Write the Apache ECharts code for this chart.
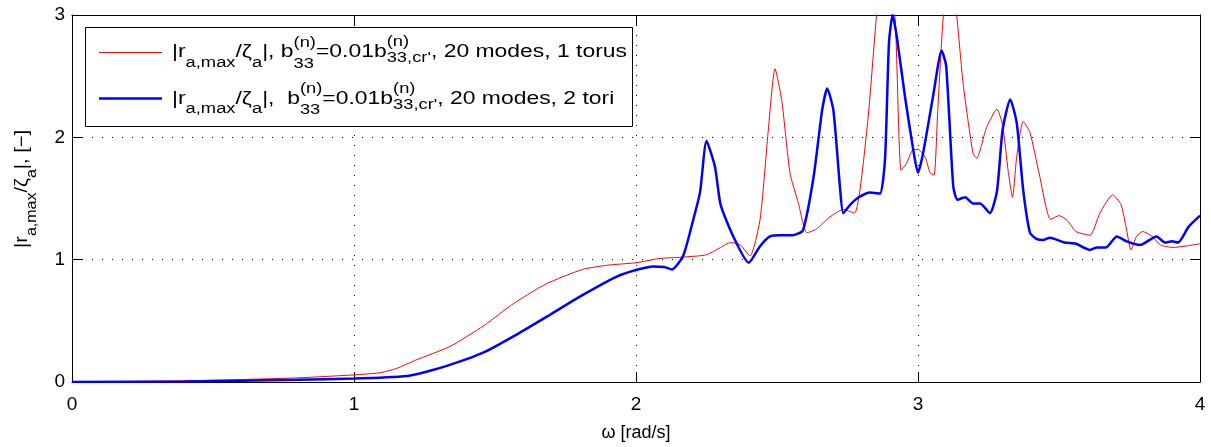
<!DOCTYPE html>
<html>
<head>
<meta charset="utf-8">
<script src="https://cdn.jsdelivr.net/npm/echarts@6/dist/echarts.min.js"></script>
<style>
html,body{margin:0;padding:0;background:#fff;}
#chart{width:1211px;height:447px;}
</style>
</head>
<body>
<div id="chart"></div>
<script>
// ---- data ----
const xTicks = [0, 1, 2, 3, 4];
const yTicks = [0, 1, 2, 3];
const redOmega = [0, 0.2, 0.4, 0.6, 0.8, 1.0, 1.09, 1.15, 1.22, 1.34, 1.46, 1.565, 1.68, 1.81, 1.9, 2.0, 2.085, 2.16, 2.25, 2.30, 2.335, 2.37, 2.404, 2.44, 2.468, 2.493, 2.517, 2.546, 2.576, 2.606, 2.64, 2.688, 2.735, 2.775, 2.82, 2.853, 2.88, 2.918, 2.94, 2.96, 2.983, 3.0, 3.025, 3.043, 3.057, 3.07, 3.09, 3.112, 3.137, 3.16, 3.195, 3.208, 3.243, 3.28, 3.30, 3.32, 3.335, 3.35, 3.373, 3.397, 3.43, 3.47, 3.50, 3.53, 3.56, 3.61, 3.645, 3.69, 3.72, 3.74, 3.755, 3.775, 3.797, 3.83, 3.86, 3.905, 4.0];
const redAmp = [0, 0.004, 0.01, 0.02, 0.034, 0.058, 0.075, 0.11, 0.18, 0.29, 0.46, 0.64, 0.80, 0.92, 0.955, 0.975, 1.01, 1.02, 1.04, 1.10, 1.14, 1.12, 1.03, 1.33, 2.03, 2.56, 2.30, 1.71, 1.46, 1.22, 1.25, 1.35, 1.41, 1.38, 2.09, 3.0, 3.6, 3.0, 1.73, 1.79, 1.90, 1.90, 1.84, 1.71, 1.69, 2.22, 3.0, 3.4, 3.0, 2.44, 1.87, 1.83, 2.08, 2.23, 2.10, 1.72, 1.51, 1.84, 2.13, 2.04, 1.70, 1.33, 1.36, 1.32, 1.23, 1.20, 1.38, 1.53, 1.45, 1.24, 1.08, 1.19, 1.23, 1.19, 1.12, 1.10, 1.13];
const blueOmega = [0, 0.4, 0.8, 1.0, 1.19, 1.25, 1.34, 1.458, 1.578, 1.695, 1.81, 1.93, 2.0, 2.06, 2.10, 2.127, 2.167, 2.20, 2.227, 2.25, 2.28, 2.30, 2.345, 2.40, 2.44, 2.475, 2.51, 2.557, 2.592, 2.63, 2.66, 2.678, 2.70, 2.723, 2.735, 2.76, 2.79, 2.83, 2.865, 2.883, 2.897, 2.91, 2.925, 2.954, 2.983, 3.0, 3.018, 3.053, 3.084, 3.10, 3.125, 3.14, 3.167, 3.195, 3.22, 3.255, 3.28, 3.30, 3.327, 3.35, 3.373, 3.397, 3.42, 3.443, 3.468, 3.52, 3.56, 3.61, 3.635, 3.667, 3.705, 3.74, 3.787, 3.846, 3.876, 3.90, 3.922, 3.96, 4.0];
const blueAmp = [0, 0.005, 0.018, 0.028, 0.05, 0.08, 0.14, 0.24, 0.39, 0.55, 0.71, 0.86, 0.915, 0.945, 0.94, 0.92, 1.03, 1.30, 1.55, 1.97, 1.76, 1.45, 1.19, 0.975, 1.11, 1.19, 1.20, 1.20, 1.24, 1.68, 2.22, 2.40, 2.22, 1.60, 1.38, 1.45, 1.51, 1.55, 1.54, 1.82, 2.77, 3.0, 2.82, 2.33, 1.90, 1.71, 1.87, 2.33, 2.71, 2.58, 1.60, 1.49, 1.51, 1.46, 1.46, 1.38, 1.56, 2.06, 2.31, 2.12, 1.57, 1.22, 1.17, 1.16, 1.18, 1.14, 1.13, 1.08, 1.10, 1.10, 1.19, 1.15, 1.12, 1.19, 1.14, 1.15, 1.14, 1.27, 1.36];

const legendRow1 = [['n','|r'],['sub','a,max'],['n','/\u03b6'],['sub','a'],['n','|, b'],['ss','(n)','33'],['n','=0.01b'],['ss2','(n)',"33,cr'"],['n',', 20 modes, 1 torus']];
const legendRow2 = [['n','|r'],['sub','a,max'],['n','/\u03b6'],['sub','a'],['n','|,  b'],['ss','(n)','33'],['n','=0.01b'],['ss2','(n)',"33,cr'"],['n',', 20 modes, 2 tori']];
const yLabelParts = [['n','|r'],['sub','a,max'],['n','/\u03b6'],['sub','a'],['n','|, [\u2212]']];
const xLabel = '\u03c9 [rad/s]';

// ---- helpers ----
const FONT = '"Liberation Sans", Arial, Helvetica, sans-serif';
const MAIN = 17.5, SCR = 14;
const cv = document.createElement('canvas').getContext('2d');
function measure(t, s){ cv.font = s + 'px ' + FONT; return cv.measureText(t).width; }
function txt(t, x, base, s){
  return {type:'text', z:110, x:x, y:base - 0.35*s, style:{text:t, font: s+'px '+FONT, fill:'#000', verticalAlign:'middle', align:'left'}};
}
function buildRun(parts, subOff){
  let x = 0; const els = [];
  parts.forEach(p => {
    if (p[0] === 'n'){ els.push(txt(p[1], x, 0, MAIN)); x += measure(p[1], MAIN); }
    else if (p[0] === 'sub'){ els.push(txt(p[1], x, subOff, SCR)); x += measure(p[1], SCR); }
    else {
      const supB = p[0] === 'ss' ? -10.5 : -11;
      const subB = p[0] === 'ss' ? 10.5 : 5;
      els.push(txt(p[1], x, supB, SCR));
      els.push(txt(p[2], x, subB, SCR));
      x += Math.max(measure(p[1], SCR), measure(p[2], SCR));
    }
  });
  return {els, width: x};
}

const r1 = buildRun(legendRow1, 9.5);
const r2 = buildRun(legendRow2, 9.5);
const sx = 455 / r1.width;
const yl = buildRun(yLabelParts, 8.5);
const sy = 118 / yl.width;

function series(name, xs, ys, color, w){
  return {name, type:'line', data: xs.map((x,i)=>[x, ys[i]]), showSymbol:false, smooth:0.2,
    lineStyle:{color, width:w}, itemStyle:{color}, clip:true, z:3};
}

const gridLine = {show:true, lineStyle:{color:'#000', width:1, type:[1,9]}};
const lblStyle = {color:'#000', fontSize:19, fontFamily:FONT};

const chart = echarts.init(document.getElementById('chart'), null, {renderer:'canvas'});
chart.setOption({
  animation:false,
  backgroundColor:'#fff',
  grid:{left:72, right:11, top:15, bottom:65, show:false},
  xAxis:[
    {type:'value', min:xTicks[0], max:xTicks[xTicks.length-1], interval:1, position:'bottom',
     axisLine:{show:true, lineStyle:{color:'#000', width:1}},
     axisTick:{show:true, inside:true, length:10, lineStyle:{color:'#000'}},
     axisLabel:{...lblStyle, margin:13},
     splitLine:gridLine,
     name:xLabel, nameLocation:'middle', nameGap:42, nameTextStyle:{...lblStyle, fontSize:18}},
    {type:'value', min:xTicks[0], max:xTicks[xTicks.length-1], interval:1, position:'top',
     axisLine:{show:true, onZero:false, lineStyle:{color:'#000', width:1}},
     axisTick:{show:true, inside:true, length:10, lineStyle:{color:'#000'}},
     axisLabel:{show:false}, splitLine:{show:false}}
  ],
  yAxis:[
    {type:'value', min:yTicks[0], max:yTicks[yTicks.length-1], interval:1, position:'left',
     axisLine:{show:true, onZero:false, lineStyle:{color:'#000', width:1}},
     axisTick:{show:true, inside:true, length:10, lineStyle:{color:'#000'}},
     axisLabel:{...lblStyle, margin:7},
     splitLine:gridLine},
    {type:'value', min:yTicks[0], max:yTicks[yTicks.length-1], interval:1, position:'right',
     axisLine:{show:true, onZero:false, lineStyle:{color:'#000', width:1}},
     axisTick:{show:true, inside:true, length:10, lineStyle:{color:'#000'}},
     axisLabel:{show:false}, splitLine:{show:false}}
  ],
  series:[
    series('1 torus', redOmega, redAmp, '#ff0000', 1),
    series('2 tori', blueOmega, blueAmp, '#0000ff', 2.5)
  ],
  graphic:[
    {type:'rect', z:100, shape:{x:85.5, y:27.5, width:547, height:99}, style:{fill:'#fff', stroke:'#000', lineWidth:1}},
    {type:'line', z:101, shape:{x1:99, y1:52.5, x2:162, y2:52.5}, style:{stroke:'#ff0000', lineWidth:1}},
    {type:'line', z:101, shape:{x1:99, y1:98.5, x2:162, y2:98.5}, style:{stroke:'#0000ff', lineWidth:2.5}},
    {type:'group', z:110, x:172, y:58.3, scaleX:sx, children:r1.els},
    {type:'group', z:110, x:172, y:105, scaleX:sx, children:r2.els},
    {type:'group', z:110, x:28.3, y:248, rotation:Math.PI/2, scaleX:sy, children:yl.els}
  ]
});
</script>
</body>
</html>
